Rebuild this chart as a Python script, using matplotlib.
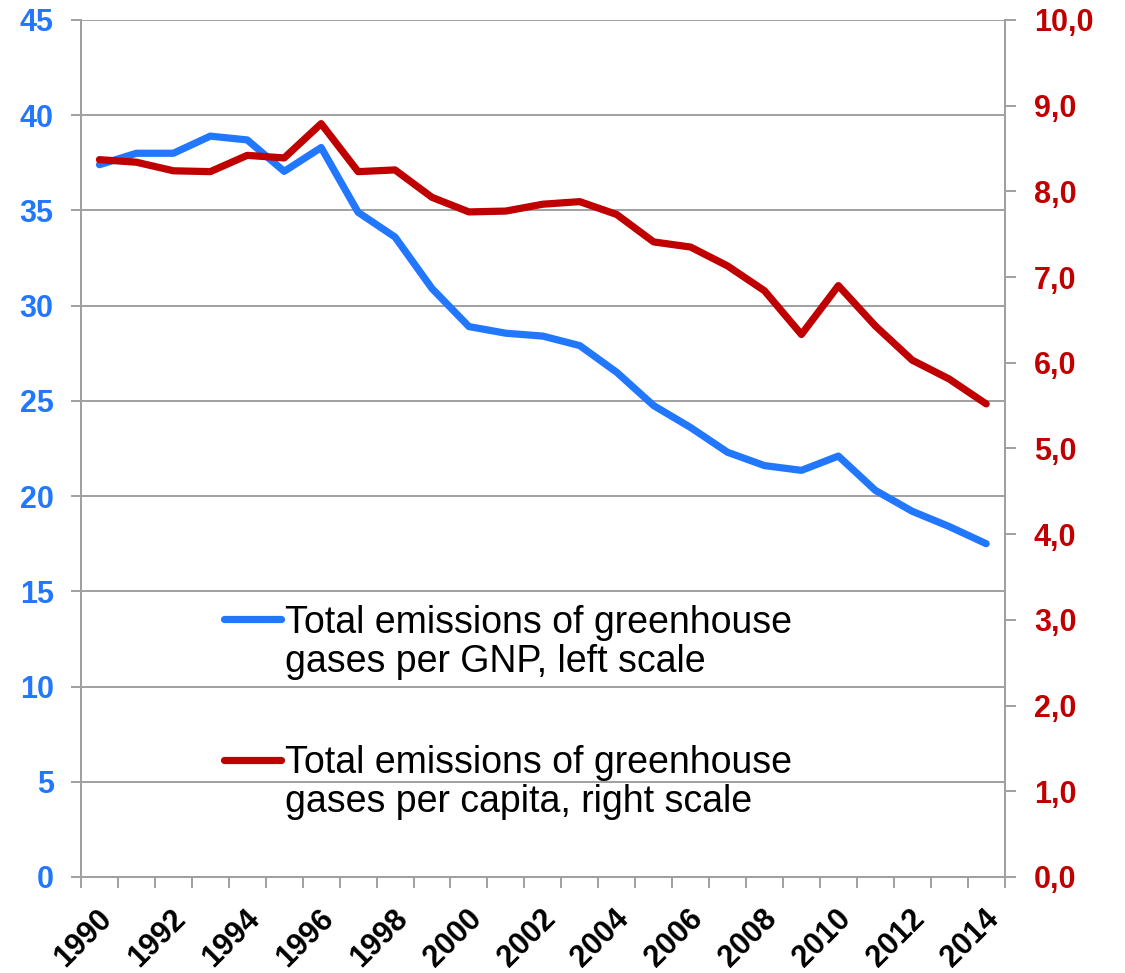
import matplotlib
matplotlib.use("Agg")
import matplotlib.pyplot as plt
import matplotlib.transforms as mtransforms
from matplotlib.lines import Line2D
from matplotlib.ticker import MultipleLocator, FuncFormatter

plt.rcParams['font.family'] = ['Liberation Sans', 'DejaVu Sans']

# data
years = list(range(1990, 2015))
per_gnp = [37.4, 38.0, 38.0, 38.9, 38.7, 37.05, 38.3, 34.9, 33.6, 30.9,
           28.9, 28.55, 28.4, 27.9, 26.5, 24.75, 23.6, 22.3, 21.6, 21.35,
           22.1, 20.3, 19.2, 18.4, 17.5]
per_capita = [8.37, 8.34, 8.24, 8.23, 8.42, 8.39, 8.79, 8.23, 8.25, 7.93,
              7.76, 7.77, 7.85, 7.88, 7.73, 7.41, 7.35, 7.13, 6.84, 6.33,
              6.90, 6.43, 6.03, 5.81, 5.52]
label_gnp = "Total emissions of greenhouse\ngases per GNP, left scale"
label_capita = "Total emissions of greenhouse\ngases per capita, right scale"

blue = '#2277FF'
red = '#C00000'
grey = '#A0A0A0'

fig = plt.figure(figsize=(11.25, 9.73), dpi=100)
ax = fig.add_axes([0.072, 0.0987, 0.821, 0.8808])
ax2 = ax.twinx()

ax.plot(years, per_gnp, color=blue, lw=5.2, solid_capstyle='round', solid_joinstyle='round')
ax2.plot(years, per_capita, color=red, lw=5.2, solid_capstyle='round', solid_joinstyle='round')

ax.set_xlim(1989.5, 2014.5)
ax.set_ylim(0, 45)
ax2.set_ylim(0, 10)

# left axis
ax.yaxis.set_major_locator(MultipleLocator(5))
ax.grid(axis='y', color=grey, lw=1.4)
ax.set_axisbelow(True)
ax.tick_params(axis='y', direction='out', length=7.2, width=1.4, color=grey,
               pad=12.5, labelsize=22, labelcolor=blue)
for t in ax.get_yticklabels():
    t.set_fontweight('bold')

# right axis
ax2.yaxis.set_major_locator(MultipleLocator(1))
ax2.yaxis.set_major_formatter(FuncFormatter(lambda v, p: f"{v:.1f}".replace('.', ',')))
ax2.tick_params(axis='y', direction='out', length=8, width=1.4, color=grey,
                pad=13, labelsize=22, labelcolor=red)
for t in ax2.get_yticklabels():
    t.set_fontweight('bold')

# x axis: ticks between categories, labels every two years
ax.set_xticks(years[::2])
ax.set_xticks([y - 0.5 for y in years] + [years[-1] + 0.5], minor=True)
ax.tick_params(axis='x', which='major', length=0, pad=27, labelsize=22)
ax.tick_params(axis='x', which='minor', direction='out', length=8, width=1.4, color=grey)
offset = mtransforms.ScaledTranslation(8 / 100, 0, fig.dpi_scale_trans)
for t in ax.get_xticklabels():
    t.set_rotation(45)
    t.set_ha('right')
    t.set_va('center')
    t.set_rotation_mode('anchor')
    t.set_fontweight('bold')
    t.set_transform(t.get_transform() + offset)

for a in (ax, ax2):
    a.spines['top'].set_visible(False)
    for s in ('left', 'right', 'bottom'):
        a.spines[s].set_color(grey)
        a.spines[s].set_linewidth(1.4)

# legend (text y is the baseline of the last line)
for (y_line, y_text, col, lab) in [(0.3007, 0.2396, blue, label_gnp),
                                   (0.1365, 0.0762, red, label_capita)]:
    ax2.add_line(Line2D([0.1548, 0.2165], [y_line, y_line], transform=ax.transAxes,
                        color=col, lw=5.2, solid_capstyle='round', clip_on=False))
    ax2.text(0.2208, y_text, lab, transform=ax.transAxes, fontsize=27,
             va='baseline', ha='left', linespacing=1.08, color='black')

fig.savefig('out.png', dpi=100)
